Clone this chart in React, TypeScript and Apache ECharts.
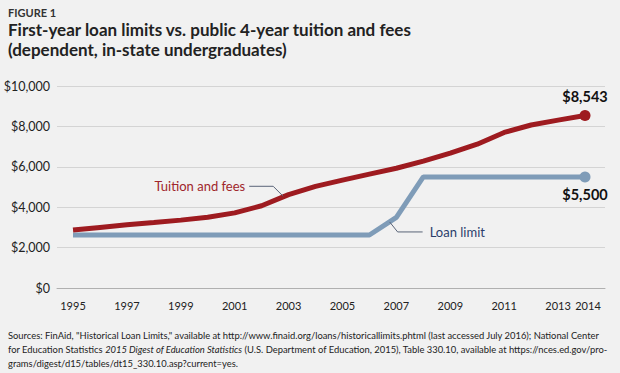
import React, { useEffect, useRef } from "react";
import * as echarts from "echarts";

const years = [1995, 1996, 1997, 1998, 1999, 2000, 2001, 2002, 2003, 2004, 2005, 2006, 2007, 2008, 2009, 2010, 2011, 2012, 2013, 2014];
const tuition = [2870, 3000, 3130, 3240, 3360, 3500, 3720, 4070, 4620, 5030, 5340, 5640, 5930, 6280, 6680, 7120, 7700, 8070, 8310, 8543];
const loanLimit = [2625, 2625, 2625, 2625, 2625, 2625, 2625, 2625, 2625, 2625, 2625, 2625, 3500, 5500, 5500, 5500, 5500, 5500, 5500, 5500];
const xTickLabels = [1995, 1997, 1999, 2001, 2003, 2005, 2007, 2009, 2011, 2013, 2014];
const yTicks = [0, 2000, 4000, 6000, 8000, 10000];

const FONT = "Lato, 'Open Sans', sans-serif";
const RED = "#9e1b20";
const BLUE = "#7f9cb8";

export default function App() {
  const ref = useRef<HTMLDivElement>(null);
  useEffect(() => {
    if (!ref.current) return;
    const chart = echarts.init(ref.current, null, { renderer: "svg" });
    const last = years.length - 1;
    const mk = (vals: number[], label: any) =>
      vals.map((v, i) =>
        i === last
          ? { value: [years[i], v], symbol: "circle", symbolSize: 11, label }
          : { value: [years[i], v], symbol: "none" }
      );
    const fmtMoney = (v: number) => "$" + v.toLocaleString("en-US");
    const lastYear = xTickLabels[xTickLabels.length - 1];
    chart.setOption({
      animation: false,
      backgroundColor: "#f1f1f1",
      textStyle: { fontFamily: FONT },
      grid: { left: 57, right: 15, top: 86, bottom: 85 },
      xAxis: {
        type: "value",
        min: 1994.406,
        max: 2014.742,
        splitLine: { show: false },
        axisTick: { show: false },
        axisLine: { show: true, lineStyle: { color: "#b0b0b0", width: 1 } },
        axisLabel: {
          customValues: xTickLabels,
          hideOverlap: false,
          formatter: (v: number) => (v === lastYear ? `{r|${v}}` : String(v)),
          rich: { r: { fontSize: 11, color: "#222", fontFamily: FONT, padding: [0, 0, 0, 6] } },
          color: "#222",
          fontSize: 11,
          margin: 12,
          fontFamily: FONT,
        },
      },
      yAxis: {
        type: "value",
        min: yTicks[0],
        max: yTicks[yTicks.length - 1],
        interval: 2000,
        axisLine: { show: false },
        axisTick: { show: false },
        splitLine: { lineStyle: { color: "#d4d4d4", width: 1 } },
        axisLabel: {
          formatter: (v: number) => fmtMoney(v),
          color: "#222",
          fontSize: 12.5,
          margin: 7,
          fontFamily: FONT,
        },
      },
      series: [
        {
          type: "line",
          name: "Loan limit",
          data: mk(loanLimit, {
            show: true,
            position: "bottom",
            distance: 5,
            formatter: (p: any) => fmtMoney(p.value[1]),
            color: "#111",
            fontWeight: "bold",
            fontSize: 14.5,
            fontFamily: FONT,
          }),
          lineStyle: { color: BLUE, width: 5 },
          itemStyle: { color: BLUE },
          z: 2,
        },
        {
          type: "line",
          name: "Tuition and fees",
          data: mk(tuition, {
            show: true,
            position: "top",
            distance: 6,
            formatter: (p: any) => fmtMoney(p.value[1]),
            color: "#111",
            fontWeight: "bold",
            fontSize: 14.5,
            fontFamily: FONT,
          }),
          lineStyle: { color: RED, width: 5 },
          itemStyle: { color: RED },
          z: 3,
        },
      ],
    });

    const pTu = chart.convertToPixel({ gridIndex: 0 }, [2002.8, 4540]) as number[];
    const pLo = chart.convertToPixel({ gridIndex: 0 }, [2006.75, 3270]) as number[];

    chart.setOption({
      graphic: [
        {
          type: "text",
          left: 8,
          top: 7,
          style: { text: "FIGURE 1", font: `bold 11px ${FONT}`, fill: "#333" },
        },
        {
          type: "text",
          left: 8,
          top: 21,
          style: {
            text: "First-year loan limits vs. public 4-year tuition and fees",
            font: `bold 17px ${FONT}`,
            fill: "#222",
          },
        },
        {
          type: "text",
          left: 8,
          top: 41,
          style: {
            text: "(dependent, in-state undergraduates)",
            font: `bold 17px ${FONT}`,
            fill: "#222",
          },
        },
        {
          type: "text",
          left: 8,
          top: 331,
          style: {
            rich: {
              n: { fontSize: 9.4, fontFamily: FONT, fill: "#222", lineHeight: 14 },
              i: { fontSize: 9.4, fontFamily: FONT, fill: "#222", fontStyle: "italic", lineHeight: 14 },
            },
            text:
              '{n|Sources: FinAid, "Historical Loan Limits," available at http://www.finaid.org/loans/historicallimits.phtml (last accessed July 2016); National Center}\n' +
              "{n|for Education Statistics }{i|2015 Digest of Education Statistics}{n| (U.S. Department of Education, 2015), Table 330.10, available at https://nces.ed.gov/pro-}\n" +
              "{n|grams/digest/d15/tables/dt15_330.10.asp?current=yes.}",
          },
        },
        {
          type: "polyline",
          shape: { points: [[pTu[0] - 34, pTu[1] - 10], [pTu[0] - 10, pTu[1] - 10], [pTu[0], pTu[1]]] },
          style: { stroke: "#5a6478", lineWidth: 1, fill: "none" },
          z: 10,
        },
        {
          type: "text",
          x: pTu[0] - 38,
          y: pTu[1] - 10,
          style: {
            text: "Tuition and fees",
            font: `13px ${FONT}`,
            fill: "#a0262b",
            align: "right",
            verticalAlign: "middle",
          },
          z: 10,
        },
        {
          type: "polyline",
          shape: { points: [[pLo[0], pLo[1]], [pLo[0] + 8, pLo[1] + 10], [pLo[0] + 33, pLo[1] + 10]] },
          style: { stroke: "#5a6478", lineWidth: 1, fill: "none" },
          z: 10,
        },
        {
          type: "text",
          x: pLo[0] + 40,
          y: pLo[1] + 10,
          style: {
            text: "Loan limit",
            font: `13px ${FONT}`,
            fill: "#2b3d6b",
            align: "left",
            verticalAlign: "middle",
          },
          z: 10,
        },
      ],
    });
    return () => chart.dispose();
  }, []);
  return (
    <div
      ref={ref}
      style={{ position: "fixed", left: 0, top: 0, width: 620, height: 373 }}
    />
  );
}
